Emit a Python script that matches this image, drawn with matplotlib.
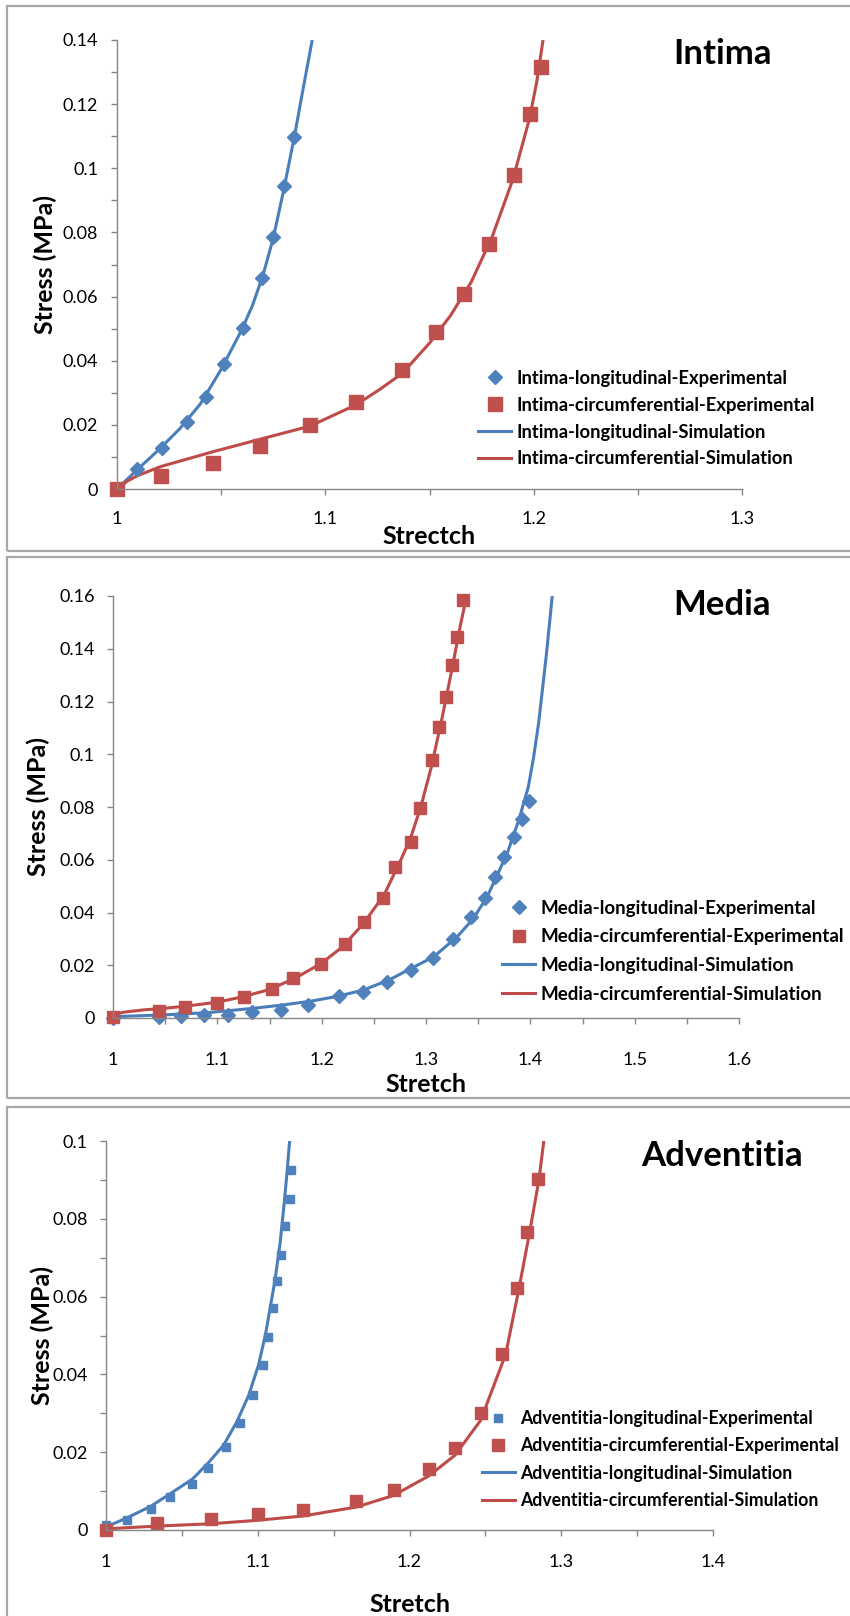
import matplotlib
matplotlib.use("Agg")
import matplotlib.pyplot as plt
from matplotlib.patches import Rectangle
from matplotlib.ticker import MultipleLocator, FuncFormatter

plt.rcParams['font.family'] = ['Lato', 'DejaVu Sans']

W, H = 850, 1616
BLUE = '#4F81BD'
RED = '#C0504D'
BLUE_LINE = '#4A7EBB'
RED_LINE = '#BE4B48'
AXIS_GREY = '#868686'

# ---- Intima ----
int_long_exp_x = [1.0, 1.0098, 1.0214, 1.0334, 1.0425, 1.0513, 1.0603, 1.0694, 1.075, 1.0803, 1.0851]
int_long_exp_y = [0.0, 0.0061, 0.0127, 0.021, 0.0288, 0.0389, 0.0501, 0.0657, 0.0787, 0.0946, 0.1099]
int_circ_exp_x = [1.0, 1.021, 1.0459, 1.0686, 1.0926, 1.1146, 1.137, 1.1533, 1.1666, 1.1785, 1.1904, 1.1981, 1.2037]
int_circ_exp_y = [0.0, 0.0041, 0.008, 0.0135, 0.020, 0.027, 0.0371, 0.049, 0.0608, 0.0764, 0.0979, 0.1168, 0.1317]
int_long_sim_x = [1.0, 1.01, 1.02, 1.03, 1.04, 1.05, 1.06, 1.065, 1.07, 1.075, 1.08, 1.085, 1.089, 1.0937]
int_long_sim_y = [0.0, 0.0062, 0.0122, 0.0187, 0.0265, 0.0373, 0.0498, 0.0572, 0.0665, 0.0782, 0.0932, 0.1094, 0.1236, 0.14]
int_circ_sim_x = [1.0, 1.005, 1.01, 1.021, 1.0459, 1.0686, 1.0926, 1.1146, 1.126, 1.137, 1.15, 1.16, 1.17, 1.18,
                  1.19, 1.198, 1.2015, 1.2045]
int_circ_sim_y = [0.0, 0.0025, 0.0042, 0.007, 0.0116, 0.0155, 0.0196, 0.0262, 0.031, 0.0361, 0.0455, 0.054, 0.0645,
                  0.0785, 0.0965, 0.1155, 0.127, 0.14]

# ---- Media ----
med_long_exp_x = [1.0, 1.0445, 1.065, 1.087, 1.11, 1.133, 1.161, 1.187, 1.217, 1.24, 1.263, 1.2857, 1.3064,
                  1.3256, 1.3433, 1.357, 1.366, 1.3752, 1.3842, 1.3916, 1.3986]
med_long_exp_y = [0.0, 0.0003, 0.0006, 0.0012, 0.0012, 0.0022, 0.003, 0.0048, 0.0083, 0.0098, 0.0137, 0.0182,
                  0.0229, 0.0298, 0.0384, 0.0456, 0.0533, 0.0609, 0.0685, 0.0753, 0.0824]
med_circ_exp_x = [1.0, 1.0445, 1.0691, 1.0995, 1.126, 1.1523, 1.173, 1.1993, 1.2227, 1.2402, 1.2588, 1.2706,
                  1.2857, 1.294, 1.3058, 1.3129, 1.3193, 1.325, 1.3298, 1.3352]
med_circ_exp_y = [0.0005, 0.0028, 0.0043, 0.0057, 0.0078, 0.0111, 0.0152, 0.0205, 0.0279, 0.0365, 0.0456, 0.0574,
                  0.0669, 0.0795, 0.0979, 0.1105, 0.1218, 0.1338, 0.1446, 0.1585]
med_long_sim_x = [1.0, 1.05, 1.09, 1.13, 1.16, 1.19, 1.215, 1.24, 1.265, 1.2857, 1.3074, 1.3298, 1.345, 1.3587,
                  1.3778, 1.389, 1.398, 1.403, 1.408, 1.4153, 1.421]
med_long_sim_y = [0.0005, 0.0012, 0.002, 0.0035, 0.0048, 0.0064, 0.0082, 0.0106, 0.0145, 0.0188, 0.0232, 0.0308,
                  0.0375, 0.046, 0.0624, 0.0751, 0.0875, 0.0985, 0.112, 0.1375, 0.16]
med_circ_sim_x = [1.0, 1.01, 1.03, 1.05, 1.07, 1.1, 1.125, 1.15, 1.175, 1.2, 1.22, 1.24, 1.26, 1.275, 1.285,
                  1.295, 1.305, 1.315, 1.325, 1.333, 1.339]
med_circ_sim_y = [0.0012, 0.0022, 0.0031, 0.0037, 0.0045, 0.006, 0.0081, 0.0108, 0.0152, 0.0208, 0.027, 0.0358,
                  0.0468, 0.0592, 0.068, 0.08, 0.095, 0.113, 0.1325, 0.149, 0.16]

# ---- Adventitia ----
adv_long_exp_x = [1.0, 1.0137, 1.0295, 1.0422, 1.057, 1.0675, 1.079, 1.0884, 1.0968, 1.1034, 1.1067, 1.11,
                  1.1126, 1.1155, 1.1177, 1.121, 1.1219]
adv_long_exp_y = [0.0012, 0.0025, 0.0053, 0.0085, 0.0119, 0.0159, 0.0213, 0.0276, 0.0346, 0.0424, 0.0496, 0.0571,
                  0.0639, 0.0708, 0.0781, 0.085, 0.0925]
adv_circ_exp_x = [1.0, 1.0335, 1.0691, 1.1001, 1.1298, 1.165, 1.1896, 1.2127, 1.2299, 1.2469, 1.2607, 1.2706,
                  1.2777, 1.2847]
adv_circ_exp_y = [0.0, 0.0019, 0.0029, 0.004, 0.0051, 0.0074, 0.0102, 0.0158, 0.0212, 0.0302, 0.0452, 0.0622,
                  0.0766, 0.0903]
adv_long_sim_x = [1.0, 1.0137, 1.0295, 1.0422, 1.057, 1.0675, 1.0775, 1.0862, 1.094, 1.1005, 1.105, 1.1082,
                  1.1115, 1.1148, 1.1175, 1.1193, 1.121]
adv_long_sim_y = [0.0008, 0.0031, 0.0061, 0.0093, 0.0131, 0.0173, 0.0218, 0.0278, 0.0346, 0.0424, 0.0501, 0.0571,
                  0.0646, 0.074, 0.0843, 0.092, 0.1]
adv_circ_sim_x = [1.0, 1.0335, 1.0691, 1.1001, 1.1298, 1.165, 1.1896, 1.2127, 1.2299, 1.2469, 1.2634, 1.2722,
                  1.2792, 1.2854, 1.2885]
adv_circ_sim_y = [0.0003, 0.001, 0.0016, 0.0025, 0.0036, 0.0059, 0.0089, 0.0139, 0.0192, 0.0282, 0.0452, 0.0622,
                  0.0766, 0.0903, 0.1]


def fy(py):
    return 1 - py / H


def tick_fmt(v, pos):
    return f"{v:g}"


def make_axes(left, top, right, bottom, xlim, ylim, ymajor, yminor, xpad, ypad):
    ax = fig.add_axes([left / W, fy(bottom), (right - left) / W, (bottom - top) / H])
    ax.patch.set_alpha(0)
    ax.set_xlim(*xlim)
    ax.set_ylim(*ylim)
    for s in ['top', 'right']:
        ax.spines[s].set_visible(False)
    for s in ['left', 'bottom']:
        ax.spines[s].set_color(AXIS_GREY)
        ax.spines[s].set_linewidth(1.0)
    ax.xaxis.set_major_locator(MultipleLocator(0.1))
    ax.xaxis.set_minor_locator(MultipleLocator(0.05))
    ax.yaxis.set_major_locator(MultipleLocator(ymajor))
    if yminor:
        ax.yaxis.set_minor_locator(MultipleLocator(yminor))
    ax.xaxis.set_major_formatter(FuncFormatter(tick_fmt))
    ax.yaxis.set_major_formatter(FuncFormatter(tick_fmt))
    ax.tick_params(which='both', direction='out', color=AXIS_GREY, width=1.0, labelsize=13)
    ax.tick_params(which='major', length=4)
    ax.tick_params(which='minor', length=4)
    ax.tick_params(axis='x', pad=xpad)
    ax.tick_params(axis='y', pad=ypad)
    return ax


def labels(ax, left, top, right, bottom, xlabel, xlab_y, ylab_x):
    ax.set_xlabel(xlabel, fontsize=18, fontweight='bold', va='center')
    ax.xaxis.set_label_coords(0.5, -(xlab_y - bottom) / (bottom - top))
    ax.set_ylabel('Stress (MPa)', fontsize=18, fontweight='bold', va='center')
    ax.yaxis.set_label_coords(-(left - ylab_x) / (right - left), 0.5)


def legend(ax, handles, names, x_px, y_first, spacing, fs=13.5):
    fpx = fs * 100 / 72
    ax.legend(handles, names, loc='upper left', bbox_to_anchor=(x_px / W, fy(y_first - 0.5 * fpx)),
              bbox_transform=fig.transFigure, frameon=False,
              prop={'weight': 'bold', 'size': fs}, borderpad=0, borderaxespad=0,
              handlelength=33 / fpx, handletextpad=5 / fpx,
              labelspacing=(spacing - 0.95 * fpx) / fpx, numpoints=1)


def panel_box(top, bottom):
    fig.patches.append(Rectangle((7 / W, fy(bottom)), (900 - 7) / W, (bottom - top) / H,
                                 transform=fig.transFigure, fill=False, ec='#a6a6a6', lw=1.6))


fig = plt.figure(figsize=(W / 100, H / 100), dpi=100)

panel_box(6, 551)
panel_box(557, 1098)
panel_box(1107, 1700)

# Intima
ax1 = make_axes(117, 40, 742, 489, (1, 1.3), (0, 0.14), 0.02, 0.01, 12, 9.5)
s1, = ax1.plot(int_long_sim_x, int_long_sim_y, color=BLUE_LINE, lw=2.2)
s2, = ax1.plot(int_circ_sim_x, int_circ_sim_y, color=RED_LINE, lw=2.2)
e1, = ax1.plot(int_long_exp_x, int_long_exp_y, 'D', color=BLUE, ms=7.5, ls='none', clip_on=False)
e2, = ax1.plot(int_circ_exp_x, int_circ_exp_y, 's', color=RED, ms=9.5, ls='none', clip_on=False)
labels(ax1, 117, 40, 742, 489, 'Strectch', 537, 45)
legend(ax1, [e1, e2, s1, s2],
       ['Intima-longitudinal-Experimental', 'Intima-circumferential-Experimental',
        'Intima-longitudinal-Simulation', 'Intima-circumferential-Simulation'],
       478, 379, 27.3, fs=13.2)
fig.text(722 / W, fy(64), 'Intima', ha='center', va='baseline', fontsize=25, fontweight='bold')

# Media
ax2 = make_axes(113, 596, 739, 1018, (1, 1.6), (0, 0.16), 0.02, None, 20.5, 9)
s1, = ax2.plot(med_long_sim_x, med_long_sim_y, color=BLUE_LINE, lw=2.2)
s2, = ax2.plot(med_circ_sim_x, med_circ_sim_y, color=RED_LINE, lw=2.2)
e1, = ax2.plot(med_long_exp_x, med_long_exp_y, 'D', color=BLUE, ms=7.5, ls='none', clip_on=False)
e2, = ax2.plot(med_circ_exp_x, med_circ_exp_y, 's', color=RED, ms=8.5, ls='none', clip_on=False)
labels(ax2, 113, 596, 739, 1018, 'Stretch', 1085, 38)
legend(ax2, [e1, e2, s1, s2],
       ['Media-longitudinal-Experimental', 'Media-circumferential-Experimental',
        'Media-longitudinal-Simulation', 'Media-circumferential-Simulation'],
       502, 909, 29.5)
fig.text(722 / W, fy(615), 'Media', ha='center', va='baseline', fontsize=25, fontweight='bold')

# Adventitia
ax3 = make_axes(106, 1141, 713, 1530, (1, 1.4), (0, 0.1), 0.02, 0.01, 13.3, 9)
s1, = ax3.plot(adv_long_sim_x, adv_long_sim_y, color=BLUE_LINE, lw=2.2)
s2, = ax3.plot(adv_circ_sim_x, adv_circ_sim_y, color=RED_LINE, lw=2.2)
e1, = ax3.plot(adv_long_exp_x, adv_long_exp_y, 's', color=BLUE, ms=6, ls='none', clip_on=False)
e2, = ax3.plot(adv_circ_exp_x, adv_circ_exp_y, 's', color=RED, ms=8.5, ls='none', clip_on=False)
labels(ax3, 106, 1141, 713, 1530, 'Stretch', 1605, 42)
legend(ax3, [e1, e2, s1, s2],
       ['Adventitia-longitudinal-Experimental', 'Adventitia-circumferential-Experimental',
        'Adventitia-longitudinal-Simulation', 'Adventitia-circumferential-Simulation'],
       482, 1419, 27, fs=12.7)
fig.text(722 / W, fy(1166), 'Adventitia', ha='center', va='baseline', fontsize=25, fontweight='bold')

fig.savefig('out.png', dpi=100)
